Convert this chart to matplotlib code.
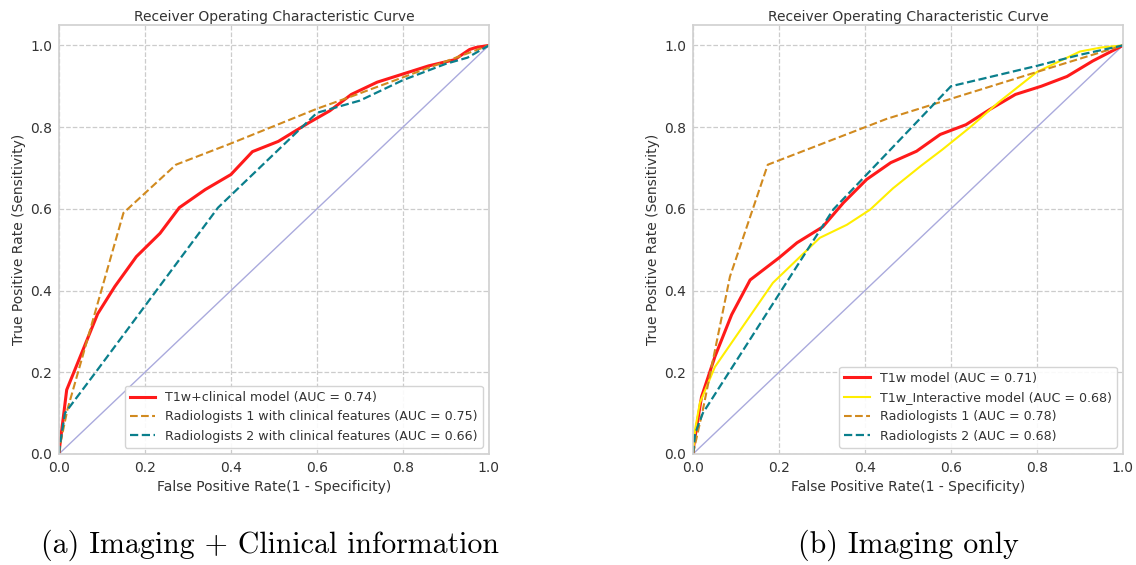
"""
ROC curves - imaging + clinical vs imaging only
"""

import numpy as np
import matplotlib.pyplot as plt

# ---- panel (a): imaging + clinical ----
a_model_fpr = [0, 0.002, 0.018, 0.09, 0.13, 0.18, 0.235, 0.28, 0.34, 0.40, 0.45, 0.51,
               0.58, 0.63, 0.68, 0.74, 0.80, 0.86, 0.92, 0.955, 0.97, 1.0]
a_model_tpr = [0, 0.02, 0.157, 0.343, 0.41, 0.483, 0.54, 0.603, 0.647, 0.684, 0.74, 0.765,
               0.81, 0.84, 0.88, 0.91, 0.93, 0.95, 0.965, 0.99, 0.995, 1.0]
a_rad1_fpr = [0, 0.002, 0.02, 0.15, 0.272, 0.40, 0.60, 0.68, 1.0]
a_rad1_tpr = [0, 0.02, 0.11, 0.59, 0.708, 0.76, 0.845, 0.875, 1.0]
a_rad2_fpr = [0, 0.002, 0.014, 0.084, 0.37, 0.6, 0.7, 0.8, 0.9, 0.95, 1.0]
a_rad2_tpr = [0, 0.02, 0.10, 0.198, 0.603, 0.835, 0.865, 0.915, 0.955, 0.97, 1.0]
a_labels = ['T1w+clinical model (AUC = 0.74)',
            'Radiologists 1 with clinical features (AUC = 0.75)',
            'Radiologists 2 with clinical features (AUC = 0.66)']

# ---- panel (b): imaging only ----
b_model_fpr = [0, 0.003, 0.02, 0.051, 0.09, 0.133, 0.2, 0.242, 0.302, 0.35, 0.404, 0.46,
               0.52, 0.575, 0.635, 0.69, 0.75, 0.81, 0.87, 0.93, 1.0]
b_model_tpr = [0, 0.03, 0.14, 0.238, 0.341, 0.426, 0.48, 0.517, 0.556, 0.615, 0.672, 0.713,
               0.741, 0.782, 0.806, 0.843, 0.88, 0.90, 0.924, 0.962, 1.0]
b_inter_fpr = [0, 0.005, 0.016, 0.051, 0.186, 0.295, 0.358, 0.412, 0.465,
               0.53, 0.58, 0.645, 0.71, 0.8, 0.9, 0.95, 1.0]
b_inter_tpr = [0, 0.06, 0.125, 0.213, 0.419, 0.529, 0.561, 0.598, 0.65,
               0.705, 0.745, 0.80, 0.86, 0.935, 0.985, 0.995, 1.0]
b_rad1_fpr = [0, 0.023, 0.086, 0.174, 0.45, 0.8, 1.0]
b_rad1_tpr = [0, 0.108, 0.434, 0.708, 0.82, 0.935, 1.0]
b_rad2_fpr = [0, 0.005, 0.023, 0.326, 0.6, 0.8, 0.9, 1.0]
b_rad2_tpr = [0, 0.05, 0.10, 0.598, 0.90, 0.95, 0.977, 1.0]
b_labels = ['T1w model (AUC = 0.71)',
            'T1w_Interactive model (AUC = 0.68)',
            'Radiologists 1 (AUC = 0.78)',
            'Radiologists 2 (AUC = 0.68)']

captions = ['(a) Imaging + Clinical information', '(b) Imaging only']

RED = '#ff1a1a'
ORANGE = '#d18a1f'
TEAL = '#0a7f8c'
YELLOW = '#ffee00'
DIAG = '#aaaadd'

fig = plt.figure(figsize=(11.36, 5.65), dpi=100)
ax1 = fig.add_axes([0.0519, 0.1965, 0.3785, 0.7593])
ax2 = fig.add_axes([0.610, 0.1965, 0.3785, 0.7593])


def style_axes(ax):
    ax.set_xlim(0, 1.0)
    ax.set_ylim(0, 1.05)
    ax.set_xticks(np.arange(0, 1.01, 0.2))
    ax.set_yticks(np.arange(0, 1.01, 0.2))
    ax.grid(True, linestyle='--', color='#cccccc', linewidth=0.9)
    ax.set_axisbelow(True)
    for sp in ax.spines.values():
        sp.set_color('#d0d0d0')
        sp.set_linewidth(1.2)
    ax.tick_params(length=0, labelsize=10, labelcolor='#333333', pad=5)
    ax.set_title('Receiver Operating Characteristic Curve', fontsize=10, color='#333333', pad=3)
    ax.set_xlabel('False Positive Rate(1 - Specificity)', fontsize=10, color='#333333', labelpad=4)
    ax.set_ylabel('True Positive Rate (Sensitivity)', fontsize=10, color='#333333', labelpad=3)
    ax.plot([0, 1], [0, 1], color=DIAG, linewidth=1)


style_axes(ax1)
ax1.plot(a_model_fpr, a_model_tpr, color=RED, linewidth=2.2, label=a_labels[0])
ax1.plot(a_rad1_fpr, a_rad1_tpr, color=ORANGE, linestyle='--', linewidth=1.5, label=a_labels[1])
ax1.plot(a_rad2_fpr, a_rad2_tpr, color=TEAL, linestyle='--', linewidth=1.6, label=a_labels[2])
ax1.legend(loc='lower right', fontsize=9.1, frameon=True, edgecolor='#d0d0d0',
           fancybox=True, framealpha=0.9, labelcolor='#333333')

style_axes(ax2)
ax2.plot(b_model_fpr, b_model_tpr, color=RED, linewidth=2.2, label=b_labels[0])
ax2.plot(b_inter_fpr, b_inter_tpr, color=YELLOW, linewidth=1.5, label=b_labels[1])
ax2.plot(b_rad1_fpr, b_rad1_tpr, color=ORANGE, linestyle='--', linewidth=1.5, label=b_labels[2])
ax2.plot(b_rad2_fpr, b_rad2_tpr, color=TEAL, linestyle='--', linewidth=1.6, label=b_labels[3])
ax2.legend(loc='lower right', fontsize=9.1, frameon=True, edgecolor='#d0d0d0',
           fancybox=True, framealpha=0.9, labelcolor='#333333')

fig.text(0.2377, 0.022, captions[0], family='cmr10', fontsize=21.5, ha='center', va='baseline')
fig.text(0.7993, 0.022, captions[1], family='cmr10', fontsize=21.5, ha='center', va='baseline')

plt.savefig('out.png', dpi=100, facecolor='white')
